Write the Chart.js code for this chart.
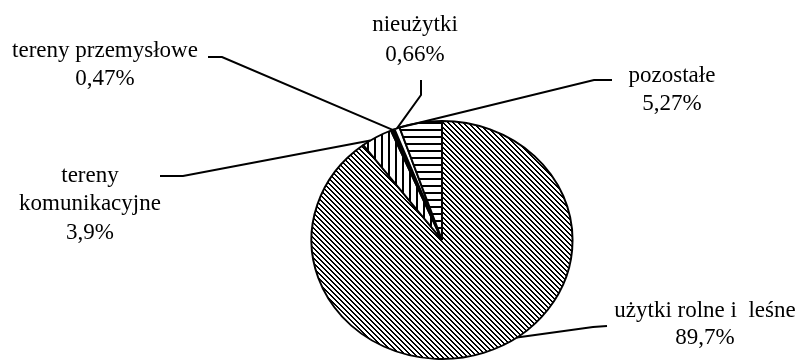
<!DOCTYPE html>
<html>
<head>
<meta charset="utf-8">
<script src="https://cdn.jsdelivr.net/npm/chart.js@4/dist/chart.umd.min.js"></script>
<style>
  html, body { margin: 0; padding: 0; background: #fff; }
  #wrap { width: 801px; height: 363px; }
</style>
</head>
<body>
<div id="wrap"><canvas id="c" width="801" height="363"></canvas></div>
<script>
// ---- data ----
const categories = ['użytki rolne i  leśne', 'tereny komunikacyjne', 'tereny przemysłowe', 'nieużytki', 'pozostałe'];
const shares = [89.7, 3.9, 0.47, 0.66, 5.27];
const labelLines = [['użytki rolne i  leśne'], ['tereny', 'komunikacyjne'], ['tereny przemysłowe'], ['nieużytki'], ['pozostałe']];

// ---- hatch patterns (crisp pixel tiles) ----
function makePattern(kind) {
  const cv = document.createElement('canvas');
  const ctx = cv.getContext('2d');
  if (kind === 'diag') {
    const p = 5;
    cv.width = p; cv.height = p;
    ctx.fillStyle = '#fff'; ctx.fillRect(0, 0, p, p);
    ctx.fillStyle = '#000';
    for (let r = 0; r < p; r++) {
      ctx.fillRect(r, r, 1, 1);
      ctx.fillRect((r + 1) % p, r, 1, 1);
    }
  } else if (kind === 'vert') {
    cv.width = 7; cv.height = 7;
    ctx.fillStyle = '#fff'; ctx.fillRect(0, 0, 7, 7);
    ctx.fillStyle = '#000'; ctx.fillRect(3, 0, 2, 7);
  } else if (kind === 'horiz') {
    cv.width = 7; cv.height = 7;
    ctx.fillStyle = '#fff'; ctx.fillRect(0, 0, 7, 7);
    ctx.fillStyle = '#000'; ctx.fillRect(0, 3, 7, 2);
  }
  return ctx.createPattern(cv, 'repeat');
}
const patterns = [makePattern('diag'), makePattern('vert'), makePattern('horiz')];
const fills = [patterns[0], patterns[1], '#000', '#fff', patterns[2]];

const SX = 1.097; // horizontal stretch of the (elliptical) pie in the reference

const labelLayout = [
  { x: 705, ys: [317], vy: 344, path: [[607, 326], [593, 327]], frac: 0.449 },
  { x: 90, ys: [182, 210], vy: 239, path: [[160, 176], [183, 176]], frac: 0.27 },
  { x: 105, ys: [57], vy: 85, path: [[208, 57], [222, 57]], frac: 0.5 },
  { x: 415, ys: [31], vy: 61, path: [[421, 80], [421, 95]], frac: 0.5 },
  { x: 672, ys: [82], vy: 110, path: [[612, 80], [594, 80]], frac: 0.0 }
];

const stretchPlugin = {
  id: 'stretch',
  beforeDatasetsDraw(chart) {
    const a = chart.getDatasetMeta(0).data[0];
    const ctx = chart.ctx;
    // keep hatch tiles unscaled and pixel aligned on screen
    const m = new DOMMatrix([1 / SX, 0, 0, 1, a.x * (SX - 1) / SX, 0]);
    patterns.forEach(p => p.setTransform(m));
    ctx.save();
    ctx.translate(a.x, a.y);
    ctx.scale(SX, 1);
    ctx.translate(-a.x, -a.y);
  },
  afterDatasetsDraw(chart) {
    chart.ctx.restore();
  }
};

const labelPlugin = {
  id: 'labels',
  afterDraw(chart) {
    const ctx = chart.ctx;
    const meta = chart.getDatasetMeta(0);
    ctx.save();
    ctx.fillStyle = '#000';
    ctx.strokeStyle = '#000';
    ctx.lineWidth = 2;
    ctx.font = '23px "Liberation Serif", "Times New Roman", serif';
    ctx.textAlign = 'center';
    ctx.textBaseline = 'alphabetic';
    meta.data.forEach((arc, i) => {
      const L = labelLayout[i];
      const p = arc.getProps(['x', 'y', 'startAngle', 'endAngle', 'outerRadius'], true);
      const ang = p.startAngle + L.frac * (p.endAngle - p.startAngle);
      const ax = p.x + Math.cos(ang) * p.outerRadius * SX;
      const ay = p.y + Math.sin(ang) * p.outerRadius;
      ctx.beginPath();
      ctx.moveTo(L.path[0][0], L.path[0][1]);
      for (let k = 1; k < L.path.length; k++) ctx.lineTo(L.path[k][0], L.path[k][1]);
      ctx.lineTo(ax, ay);
      ctx.stroke();
      labelLines[i].forEach((t, k) => ctx.fillText(t, L.x, L.ys[k]));
      ctx.fillText(String(shares[i]).replace('.', ',') + '%', L.x, L.vy);
    });
    ctx.restore();
  }
};

new Chart(document.getElementById('c'), {
  type: 'pie',
  data: {
    labels: categories,
    datasets: [{
      data: shares,
      backgroundColor: fills,
      borderColor: '#000',
      borderWidth: 1.8,
      radius: 119
    }]
  },
  options: {
    responsive: false,
    animation: false,
    layout: { padding: { left: 312, right: 229, top: 121, bottom: 4 } },
    plugins: { legend: { display: false }, tooltip: { enabled: false } }
  },
  plugins: [stretchPlugin, labelPlugin]
});
</script>
</body>
</html>
